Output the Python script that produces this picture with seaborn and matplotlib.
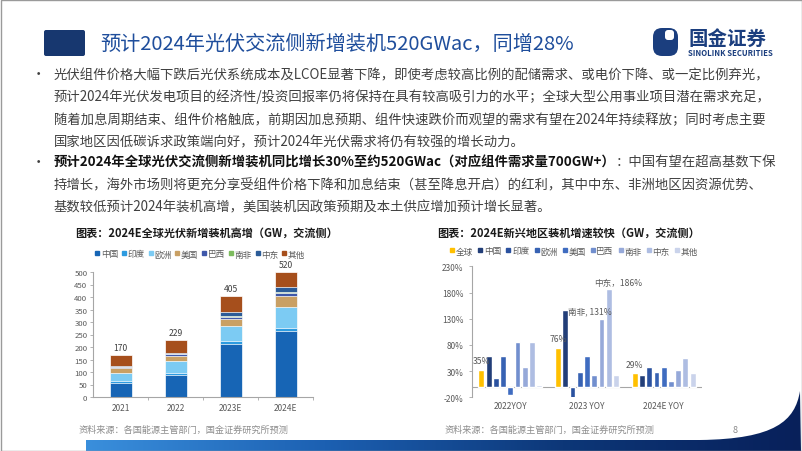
import numpy as np
import pandas as pd
import matplotlib
matplotlib.use("Agg")
import matplotlib.pyplot as plt
import seaborn as sns
from matplotlib.patches import Rectangle, FancyBboxPatch, PathPatch
from matplotlib.path import Path
from matplotlib.lines import Line2D
from matplotlib.colors import LinearSegmentedColormap

sns.set_theme(style="white")
plt.rcParams["font.family"] = ["Noto Sans CJK SC", "DejaVu Sans"]

# ---------------- data: left chart (GW, AC side) ----------------
years = ["2021", "2022", "2023E", "2024E"]
regions_l = ["中国", "印度", "欧洲", "美国", "巴西", "南非", "中东", "其他"]
china = [55, 87, 213, 265]
india = [10, 10, 12, 13]
europe = [30, 47, 60, 82]
usa = [20, 21, 27, 45]
brazil = [4, 7, 10, 12]
s_africa = [1, 1, 3, 3]
mideast = [3, 4, 16, 22]
others = [47, 52, 64, 58]
total_labels = ["170", "229", "405", "520"]
yticks_l = [0, 50, 100, 150, 200, 250, 300, 350, 400, 450, 500]

# ---------------- data: right chart (YoY %) ----------------
periods = ["2022YOY", "2023 YOY", "2024E YOY"]
regions_r = ["全球", "中国", "印度", "欧洲", "美国", "巴西", "南非", "中东", "其他"]
yoy_global = [33, 75, 27]
yoy_china = [58, 146, 23]
yoy_india = [16, -22, 38]
yoy_europe = [58, 29, 29]
yoy_usa = [-15, 59, 38]
yoy_brazil = [86, 23, 11]
yoy_safrica = [38, 130, 32]
yoy_mideast = [86, 186, 55]
yoy_others = [4, 23, 27]
global_labels = ["35%", "76%", "29%"]
yticks_r = [-20, 30, 80, 130, 180, 230]

# ---------------- text ----------------
title = "预计2024年光伏交流侧新增装机520GWac，同增28%"
bullet1 = [
    "光伏组件价格大幅下跌后光伏系统成本及LCOE显著下降，即使考虑较高比例的配储需求、或电价下降、或一定比例弃光，",
    "预计2024年光伏发电项目的经济性/投资回报率仍将保持在具有较高吸引力的水平；全球大型公用事业项目潜在需求充足，",
    "随着加息周期结束、组件价格触底，前期因加息预期、组件快速跌价而观望的需求有望在2024年持续释放；同时考虑主要",
    "国家地区因低碳诉求政策端向好，预计2024年光伏需求将仍有较强的增长动力。",
]
bullet2_bold = "预计2024年全球光伏交流侧新增装机同比增长30%至约520GWac（对应组件需求量700GW+）"
bullet2_rest = "：中国有望在超高基数下保"
bullet2 = [
    "持增长，海外市场则将更充分享受组件价格下降和加息结束（甚至降息开启）的红利，其中中东、非洲地区因资源优势、",
    "基数较低预计2024年装机高增，美国装机因政策预期及本土供应增加预计增长显著。",
]
title_l = "图表：2024E全球光伏新增装机高增（GW，交流侧）"
title_r = "图表：2024E新兴地区装机增速较快（GW，交流侧）"
source = "资料来源：各国能源主管部门，国金证券研究所预测"

# ---------------- figure ----------------
W, H = 802, 452
fig = plt.figure(figsize=(W / 100, H / 100), dpi=100)
fig.patch.set_facecolor("white")

bg = fig.add_axes([0, 0, 1, 1])
bg.set_xlim(0, W)
bg.set_ylim(H, 0)
bg.axis("off")
bg.set_zorder(-5)

def fx(x):
    return x / W

def fy(y):
    return 1 - y / H

# header
bg.add_patch(FancyBboxPatch((44, 31), 41, 26, boxstyle="round,pad=0,rounding_size=2",
                            fc="#17376F", ec="none"))
fig.text(fx(100), fy(44), title, fontsize=14.5, color="#1F4E9C", va="center", ha="left")

# logo
bg.add_patch(FancyBboxPatch((653, 29), 25, 28, boxstyle="round,pad=0,rounding_size=9",
                            fc="#1B3E7E", ec="none"))
bg.add_patch(FancyBboxPatch((665, 31), 9, 10, boxstyle="round,pad=0,rounding_size=3",
                            fc="white", ec="none"))
fig.text(fx(688), fy(39), "国金证券", fontsize=14, fontweight="bold", color="#1B3E7E",
         va="center", ha="left")
fig.text(fx(688), fy(53), "SINOLINK SECURITIES", fontsize=5.6, fontweight="bold",
         color="#1B3E7E", va="center", ha="left")

# body text
body_fs = 9.6
body_col = "#404040"
ys1 = [75, 97, 120, 142]
fig.text(fx(38), fy(ys1[0]), "•", fontsize=body_fs, color=body_col, va="center", ha="center")
for yy, line in zip(ys1, bullet1):
    fig.text(fx(54), fy(yy), line, fontsize=body_fs, color=body_col, va="center", ha="left")

ys2 = [163, 185, 207]
fig.text(fx(38), fy(ys2[0]), "•", fontsize=body_fs, color=body_col, va="center", ha="center")
t_bold = fig.text(fx(54), fy(ys2[0]), bullet2_bold, fontsize=body_fs, color="#111111",
                  fontweight="bold", va="center", ha="left")
bg.annotate(bullet2_rest, xy=(1, 0.5), xycoords=t_bold, va="center", ha="left",
            fontsize=body_fs, color=body_col)
for yy, line in zip(ys2[1:], bullet2):
    fig.text(fx(54), fy(yy), line, fontsize=body_fs, color=body_col, va="center", ha="left")

# chart titles
fig.text(fx(75), fy(233), title_l, fontsize=8, fontweight="bold", color="#1a1a1a",
         va="center", ha="left")
fig.text(fx(437), fy(233), title_r, fontsize=8, fontweight="bold", color="#1a1a1a",
         va="center", ha="left")

# ---------------- left stacked chart ----------------
cols_l = ["#1765B5", "#2D9BE0", "#7CCBF3", "#C9A064", "#3F58AA", "#7DBB5E", "#2C5C98", "#A64F1C"]
axl = fig.add_axes([fx(93), fy(398), fx(313) - fx(93), fy(273) - fy(398)])
axl.set_facecolor("none")
stack = np.array([china, india, europe, usa, brazil, s_africa, mideast, others], dtype=float)
cum = np.cumsum(stack, axis=0)
for k in reversed(range(len(regions_l))):
    sns.barplot(x=years, y=cum[k], color=cols_l[k], width=0.4, saturation=1,
                edgecolor="white", linewidth=0.5, ax=axl)
for i, lab in enumerate(total_labels):
    axl.annotate(lab, xy=(i, cum[-1][i]), xytext=(0, 2), textcoords="offset points",
                 ha="center", va="bottom", fontsize=6.2, color="#404040")
axl.set_ylim(0, 500)
axl.set_yticks(yticks_l)
axl.set_xlim(-0.5, len(years) - 0.5)
axl.set_xlabel("")
axl.set_ylabel("")
for s in ["top", "right"]:
    axl.spines[s].set_visible(False)
for s in ["left", "bottom"]:
    axl.spines[s].set_color("#A6A6A6")
    axl.spines[s].set_linewidth(0.8)
axl.tick_params(axis="y", labelsize=5.6, colors="#595959", length=2, width=0.6, pad=2,
                left=True, color="#A6A6A6")
axl.tick_params(axis="x", labelsize=6, colors="#595959", length=0, pad=4)
axl.set_xticks(np.arange(len(years)) + 0.5, minor=True)
axl.tick_params(axis="x", which="minor", length=2.5, width=0.6, color="#A6A6A6", bottom=True)

handles_l = [Line2D([0], [0], marker="s", linestyle="none", markersize=3.2,
                    markerfacecolor=c, markeredgecolor=c) for c in cols_l]
fig.legend(handles_l, regions_l, loc="center", bbox_to_anchor=(fx(200), fy(255)),
           ncol=8, frameon=False, fontsize=6.2, handlelength=0.5, handletextpad=0.15,
           columnspacing=0.45, labelcolor="#595959", borderaxespad=0, borderpad=0)

# ---------------- right grouped chart ----------------
cols_r = ["#FFC000", "#223E78", "#2A519F", "#3762B3", "#3F6CC0", "#728FCE",
          "#96A9D9", "#AEBDE2", "#CAD3EB"]
series_r = [yoy_global, yoy_china, yoy_india, yoy_europe, yoy_usa, yoy_brazil,
            yoy_safrica, yoy_mideast, yoy_others]
rows = []
for reg, vals in zip(regions_r, series_r):
    for p, v in zip(periods, vals):
        rows.append({"period": p, "region": reg, "value": v})
df_r = pd.DataFrame(rows)

axr = fig.add_axes([fx(472), fy(398.3), fx(702) - fx(472), fy(267.3) - fy(398.3)])
axr.set_facecolor("none")
sns.barplot(data=df_r, x="period", y="value", hue="region", order=periods,
            hue_order=regions_r, palette=cols_r, width=0.85, gap=0.2, saturation=1,
            legend=False, ax=axr)
axr.set_ylim(-20, 230)
axr.set_yticks(yticks_r)
axr.set_yticklabels([f"{t}%" for t in yticks_r])
axr.set_xlim(-0.5, len(periods) - 0.5)
axr.set_xlabel("")
axr.set_ylabel("")
axr.axhline(0, color="#A6A6A6", lw=0.8, zorder=0)
for s in ["top", "right", "bottom"]:
    axr.spines[s].set_visible(False)
axr.spines["left"].set_color("#A6A6A6")
axr.spines["left"].set_linewidth(0.8)
axr.tick_params(axis="y", labelsize=6, colors="#595959", length=2, width=0.6, pad=4,
                left=True, color="#A6A6A6")
axr.tick_params(axis="x", labelsize=6, colors="#595959", length=0, pad=3)

# annotations
gl = axr.containers[0]
for i, lab in enumerate(global_labels):
    b = gl[i]
    axr.annotate(lab, xy=(b.get_x() + b.get_width() / 2, b.get_height()), xytext=(0, 3),
                 textcoords="offset points", ha="center", va="bottom", fontsize=6.2,
                 color="#595959")
b_sa = axr.containers[regions_r.index("南非")][1]
axr.annotate("南非, " + "131%", xy=(b_sa.get_x() + b_sa.get_width() / 2, b_sa.get_height()),
             xytext=(-8, 2.5), textcoords="offset points", ha="center", va="bottom",
             fontsize=6.2, color="#595959")
b_me = axr.containers[regions_r.index("中东")][1]
axr.annotate("中东，" + "186%", xy=(b_me.get_x() + b_me.get_width() / 2, b_me.get_height()),
             xytext=(7, 2), textcoords="offset points", ha="center", va="bottom",
             fontsize=6.2, color="#595959")

handles_r = [Line2D([0], [0], marker="s", linestyle="none", markersize=3.0,
                    markerfacecolor=c, markeredgecolor=c) for c in cols_r]
fig.legend(handles_r, regions_r, loc="center", bbox_to_anchor=(fx(574), fy(252)),
           ncol=9, frameon=False, fontsize=6.2, handlelength=0.45, handletextpad=0.2,
           columnspacing=0.6, labelcolor="#595959", borderaxespad=0, borderpad=0)

# sources and page number
fig.text(fx(79), fy(430), source, fontsize=6.6, color="#8C8C8C", va="center", ha="left")
fig.text(fx(445), fy(430), source, fontsize=6.6, color="#8C8C8C", va="center", ha="left")
fig.text(fx(735), fy(431), "8", fontsize=6.6, color="#8C8C8C", va="center", ha="center")

# bottom gradient band
grad = np.linspace(0, 1, 256).reshape(1, -1)
cmap = LinearSegmentedColormap.from_list("band", ["#3A8FDC", "#1C60B2", "#0D3778", "#08205A"])
im = bg.imshow(grad, extent=[86, 802, 452, 385], cmap=cmap, aspect="auto", zorder=1)
verts = [(86, 441), (700, 441), (775, 440), (795, 422), (800, 392),
         (801, 452), (86, 452), (86, 441)]
codes = [Path.MOVETO, Path.LINETO, Path.CURVE4, Path.CURVE4, Path.CURVE4,
         Path.LINETO, Path.LINETO, Path.CLOSEPOLY]
clip = PathPatch(Path(verts, codes), transform=bg.transData, fc="none", ec="none")
bg.add_patch(clip)
im.set_clip_path(clip)
bg.set_xlim(0, W)
bg.set_ylim(H, 0)

# slide border
bg.add_patch(Rectangle((0.5, 0.5), W - 1, H - 1, fill=False, ec="#9A9A9A", lw=1, zorder=3))

fig.savefig("out.png", dpi=100, facecolor="white")
